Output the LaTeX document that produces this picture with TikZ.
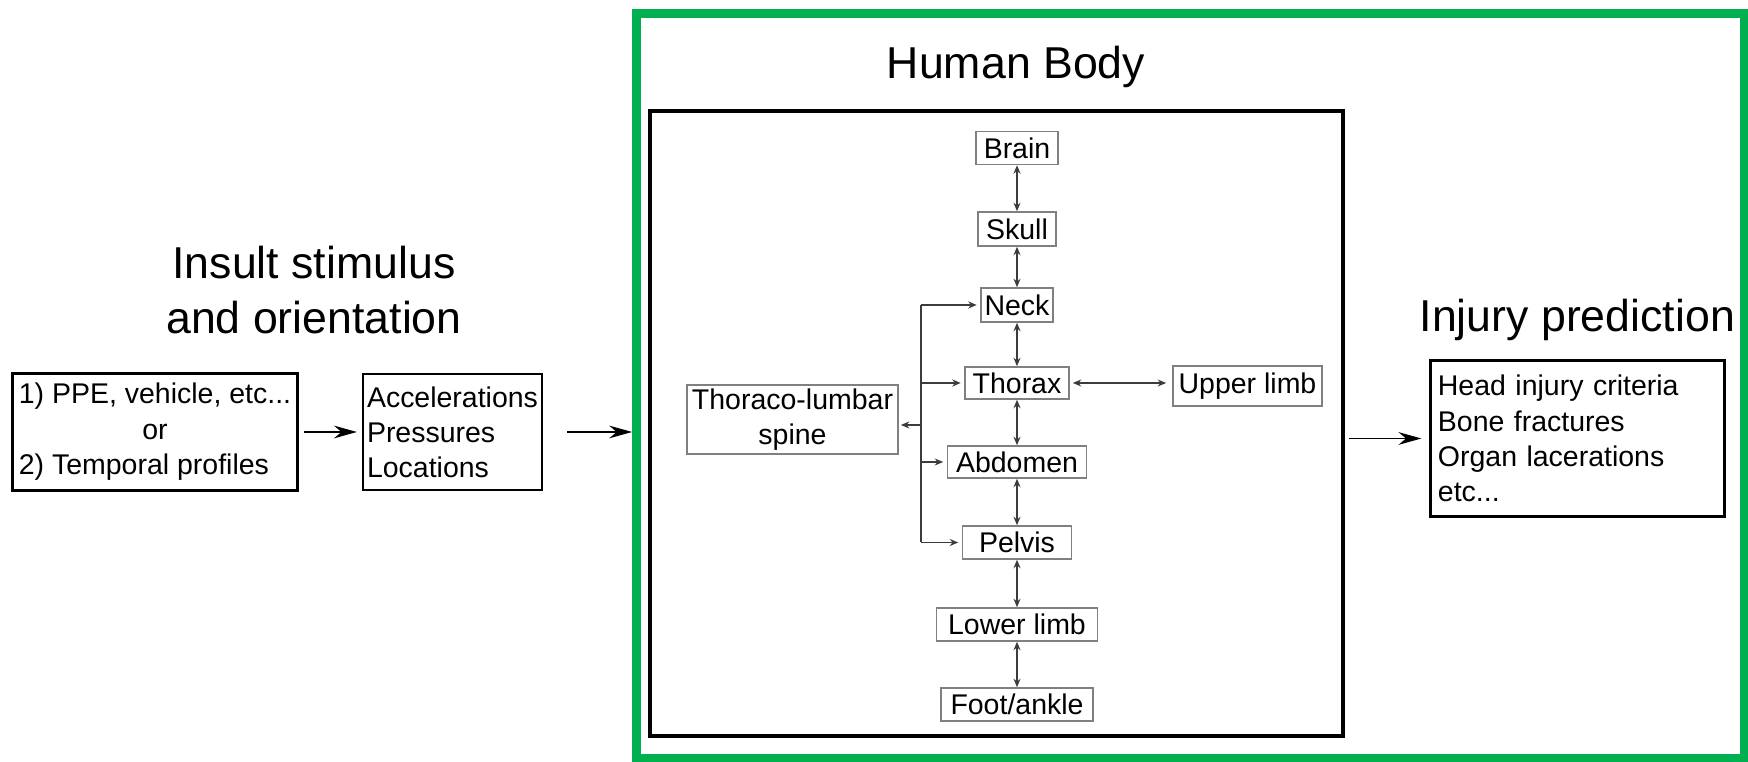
\documentclass[tikz,border=0pt]{standalone}
\usepackage{fontspec}
\setmainfont{Liberation Sans}
\usepackage{tikz}
\usetikzlibrary{arrows.meta}
\definecolor{FRAME}{HTML}{00B050}
\definecolor{EDGE}{HTML}{808080}
\definecolor{LINK}{HTML}{3C3C3C}

\begin{document}
\begin{tikzpicture}[
    x=0.01cm, y=-0.01cm,
    title/.style={font=\fontsize{12.7}{15.4}\selectfont, align=center},
    stimbox/.style={draw, line width=0.85pt, font=\fontsize{8.1}{10}\selectfont, align=left, inner sep=0pt},
    part/.style={draw=EDGE, line width=0.45pt, font=\fontsize{8.1}{10}\selectfont, inner sep=0pt, minimum height=0.33cm},
    flow/.style={-{Stealth[length=6.5pt, width=3.6pt]}, line width=0.5pt},
    joint/.style={{Stealth[length=2.4pt, width=2pt]}-{Stealth[length=2.4pt, width=2pt]}, LINK, line width=0.35pt},
    branch/.style={-{Stealth[length=2.4pt, width=2pt]}, LINK, line width=0.35pt},
  ]
  \useasboundingbox (0,0) rectangle (1748,762);

  % frames
  \node[draw=FRAME, line width=2.6pt, minimum width=11.07cm, minimum height=7.44cm, inner sep=0pt] (frame) at (1190.5,386) {};
  \node[draw, line width=1pt, minimum width=6.93cm, minimum height=6.25cm, inner sep=0pt] (body) at (996.5,423.5) {};

  % titles
  \node[title] (insult) at (314,290) {Insult stimulus\\and orientation};
  \node[title] (human) at (1016,67) {Human Body};
  \node[title, anchor=west, inner xsep=0pt] (injury) at (1419,320) {Injury prediction};

  % input and output boxes
  \node[stimbox, minimum width=2.84cm, minimum height=1.16cm] (source) at (155,432)
    {\begin{tabular}{@{}l@{}}1) PPE, vehicle, etc...\\\multicolumn{1}{@{}c@{}}{or}\\2) Temporal profiles\end{tabular}};
  \node[stimbox, line width=0.6pt, minimum width=1.79cm, minimum height=1.16cm] (loads) at (452.5,432)
    {Accelerations\\Pressures\\Locations};
  \node[stimbox, text width=2.79cm, minimum height=1.55cm, inner xsep=0.07cm] (outcome) at (1577.5,438.5)
    {Head injury criteria\\Bone fractures\\Organ lacerations\\etc...};

  % body parts
  \node[part, minimum width=0.82cm] (brain) at (1017,148) {Brain};
  \node[part, minimum width=0.78cm, minimum height=0.34cm] (skull) at (1017,229) {Skull};
  \node[part, minimum width=0.72cm, minimum height=0.34cm] (neck) at (1017,305) {Neck};
  \node[part, minimum width=1.04cm, minimum height=0.32cm] (thorax) at (1017,383) {Thorax};
  \node[part, minimum width=1.49cm, minimum height=0.40cm] (upperlimb) at (1247.5,386) {Upper limb};
  \node[part, minimum width=1.39cm, minimum height=0.32cm] (abdomen) at (1017,462) {Abdomen};
  \node[part, minimum width=1.09cm] (pelvis) at (1017,542.5) {Pelvis};
  \node[part, minimum width=1.61cm] (lowerlimb) at (1017,624.5) {Lower limb};
  \node[part, minimum width=1.52cm] (foot) at (1017,704.5) {Foot/ankle};
  \node[part, minimum width=2.11cm, minimum height=0.69cm, align=center] (spine) at (792.5,419.5) {Thoraco-lumbar\\spine};

  % joints along the body
  \foreach \a/\b in {brain/skull, skull/neck, neck/thorax, thorax/abdomen, abdomen/pelvis, pelvis/lowerlimb, lowerlimb/foot}
    \draw[joint] (\a.south) -- (\b.north);
  \draw[joint, shorten <=0.03cm, shorten >=0.06cm] (thorax.east) -- (thorax.east -| upperlimb.west);

  % spine branches
  \coordinate (trunk) at (921,425);
  \draw[LINK, line width=0.35pt] (neck.west -| trunk) -- (pelvis.west -| trunk);
  \foreach \p in {neck, thorax, abdomen, pelvis}
    \draw[branch, shorten >=0.035cm] (\p.west -| trunk) -- (\p.west);
  \draw[branch, shorten >=0.02cm] (trunk) -- (trunk -| spine.east);

  % main flow
  \draw[flow, shorten <=0.05cm, shorten >=0.05cm] (source) -- (loads);
  \draw[flow, shorten <=0.24cm] (loads.east) -- (loads.east -| frame.west);
  \draw[flow, shorten <=0.04cm, shorten >=0.08cm] (body.east |- outcome.west) -- (outcome.west);

\end{tikzpicture}
\end{document}
